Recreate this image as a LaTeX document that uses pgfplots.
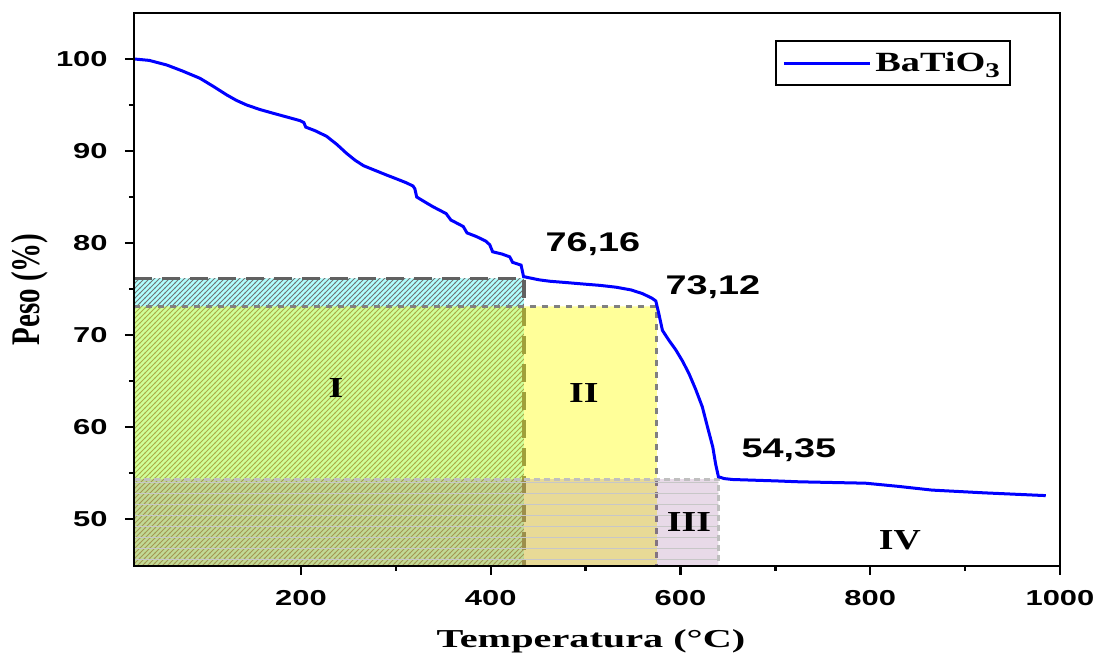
\documentclass[border=0pt]{standalone}
\usepackage{fontspec}
\usepackage{graphicx}
\usepackage{pgfplots}
\pgfplotsset{compat=1.18}
\usetikzlibrary{patterns}
\setmainfont{Liberation Serif}
\newfontfamily\tickfont{Liberation Sans}
\newfontfamily\annfont{Liberation Sans}[FakeStretch=1.4]
\newfontfamily\romfont{Liberation Serif}[FakeStretch=1.3]
\newfontfamily\xlabfont{Liberation Serif}[FakeStretch=1.56]
\newfontfamily\legfont{Liberation Serif}[FakeStretch=1.38]
\definecolor{cyanfill}{RGB}{176,255,255}
\definecolor{yelfill}{RGB}{255,255,0}
\definecolor{purfill}{RGB}{140,70,140}
\definecolor{curveblue}{RGB}{0,0,255}
\pgfdeclarepatternformonly{finediag}{\pgfqpoint{-0.5pt}{-0.5pt}}{\pgfqpoint{3pt}{3pt}}{\pgfqpoint{2.5pt}{2.5pt}}{%
  \pgfsetlinewidth{0.5pt}%
  \pgfpathmoveto{\pgfqpoint{-0.3pt}{-0.3pt}}\pgfpathlineto{\pgfqpoint{2.8pt}{2.8pt}}\pgfusepath{stroke}}
\pgfdeclarepatternformonly{hlinesw}{\pgfqpoint{-0.5pt}{-0.5pt}}{\pgfqpoint{6pt}{6pt}}{\pgfqpoint{5.5pt}{5.5pt}}{%
  \pgfsetlinewidth{0.5pt}%
  \pgfpathmoveto{\pgfqpoint{-0.5pt}{2.75pt}}\pgfpathlineto{\pgfqpoint{6pt}{2.75pt}}\pgfusepath{stroke}}
\begin{document}
\begin{tikzpicture}
\begin{axis}[
  name=ax, at={(0,0)}, anchor=south west,
  scale only axis, width=463pt, height=276.5pt,
  xmin=24, xmax=1000, ymin=44.9, ymax=105,
  xtick={200,400,600,800,1000},
  ytick={50,60,70,80,90,100},
  minor x tick num=1, minor y tick num=1,
  tick pos=left, tick align=outside,
  major tick length=4.5pt, minor tick length=2.5pt,
  every major tick/.append style={black, line width=1.2pt},
  every minor tick/.append style={black, line width=1.2pt},
  axis on top=true,
  axis line style={black, line width=1.3pt},
  xticklabel={\scalebox{1.43}[1]{\pgfmathprintnumber[assume math mode=true,1000 sep={}]{\tick}}},
  yticklabel={\scalebox{1.43}[1]{\pgfmathprintnumber[assume math mode=true,1000 sep={}]{\tick}}},
  tick label style={font=\tickfont\bfseries\fontsize{10.8}{12}\selectfont},
  yticklabel style={inner sep=0pt, xshift=-8.5pt},
  xticklabel style={inner sep=0pt, yshift=-7.5pt},
  xlabel={\xlabfont\bfseries\fontsize{12.9}{14}\selectfont Temperatura (°C)},
  xlabel style={at={(axis description cs:0.4935,-0.136)}, anchor=center},
  ylabel={\scalebox{1}[1.4]{\bfseries\fontsize{14.5}{16}\selectfont Peso (\%)}},
  ylabel style={at={(axis description cs:-0.1123,0.5)}, anchor=center},
  legend style={at={(0.947,0.951)}, anchor=north east, draw=black, line width=1pt,
    font=\legfont\bfseries\fontsize{13.9}{15}\selectfont, inner xsep=3pt, inner ysep=3.5pt,
    legend cell align=left},
  legend image code/.code={\draw[#1] (0pt,0pt) -- (43pt,0pt);},
]
% Region I cyan band + hatch
\addplot[fill=cyanfill, draw=none, forget plot] coordinates {(24,45) (435,45) (435,76.16) (24,76.16) (24,45)};
\addplot[draw=none, forget plot, pattern=finediag, pattern color=black!55] coordinates {(24,45) (435,45) (435,76.16) (24,76.16) (24,45)};
\addplot[draw=black!62, line width=1.6pt, dash pattern=on 9pt off 5pt, forget plot] coordinates {(24,76.16) (435,76.16) (435,45)};
% Region II yellow
\addplot[fill=yelfill, fill opacity=0.4, draw=none, forget plot] coordinates {(24,45) (575,45) (575,73.12) (24,73.12) (24,45)};
\addplot[draw=black!50, line width=1.5pt, dash pattern=on 3pt off 3pt, forget plot] coordinates {(24,73.12) (575,73.12) (575,45)};
% Region III purple
\addplot[fill=purfill, fill opacity=0.2, draw=none, forget plot] coordinates {(24,45) (640,45) (640,54.35) (24,54.35) (24,45)};
\addplot[draw=none, forget plot, pattern=hlinesw, pattern color=black!22] coordinates {(24,45) (640,45) (640,54.35) (24,54.35) (24,45)};
\addplot[draw=black!25, line width=1.5pt, dash pattern=on 3pt off 2pt, forget plot] coordinates {(24,54.35) (640,54.35) (640,45)};
% TGA curve
\addplot[curveblue, line width=1.5pt] coordinates {
(24.5,100.0) (40,99.85) (58.5,99.35) (75,98.7) (93.6,97.9) (108,97.0) (121.7,96.1)
(132,95.5) (142.8,95.0) (157,94.5) (170.8,94.1) (185,93.7) (199,93.3) (203,93.1)
(205,92.6) (215,92.2) (227,91.6) (238,90.7) (248,89.75) (257,89.0) (266,88.4) (278,87.9)
(290,87.4) (300,87.0) (311,86.55) (318,86.2) (320,85.9) (322,85.0) (330,84.5)
(339,83.95) (353,83.2) (358,82.5) (371,81.8) (375,81.1) (385,80.7) (395,80.2)
(399,79.8) (402,79.05) (412,78.8) (420,78.5) (423,77.9) (432,77.6) (434.6,76.35)
(451,76.0) (462,75.85) (480,75.7) (497,75.55) (515,75.4) (532,75.2) (548,74.9)
(560,74.5) (570,74.0) (574,73.7) (577,72.4) (581,70.5) (588,69.4) (595,68.4)
(602,67.2) (609,65.8) (616,64.1) (623,62.2) (628,60.2) (634,57.85) (637,56.0)
(640,54.6) (646,54.4) (655,54.3) (700,54.15) (725,54.05) (795,53.9) (830,53.55)
(865,53.15) (920,52.85) (985,52.55)
};
\addlegendentry{BaTiO\raisebox{-0.45ex}{\fontsize{10.5}{11}\selectfont 3}}
% annotations
\node[font=\annfont\bfseries\fontsize{13.5}{14}\selectfont] at (axis cs:507.7,79.9) {76,16};
\node[font=\annfont\bfseries\fontsize{13.5}{14}\selectfont] at (axis cs:634.1,75.2) {73,12};
\node[font=\annfont\bfseries\fontsize{13.5}{14}\selectfont] at (axis cs:714.2,57.5) {54,35};
\node[font=\romfont\bfseries\fontsize{14.5}{15}\selectfont] at (axis cs:236.9,64.24) {I};
\node[font=\romfont\bfseries\fontsize{14.5}{15}\selectfont] at (axis cs:498.2,63.7) {II};
\node[font=\romfont\bfseries\fontsize{14.5}{15}\selectfont] at (axis cs:608.9,49.67) {III};
\node[font=\romfont\bfseries\fontsize{14.5}{15}\selectfont] at (axis cs:831.2,47.7) {IV};
\end{axis}
\pgfresetboundingbox
\path (-67pt,-43.5pt) rectangle (482.5pt,283pt);
\end{tikzpicture}
\end{document}
